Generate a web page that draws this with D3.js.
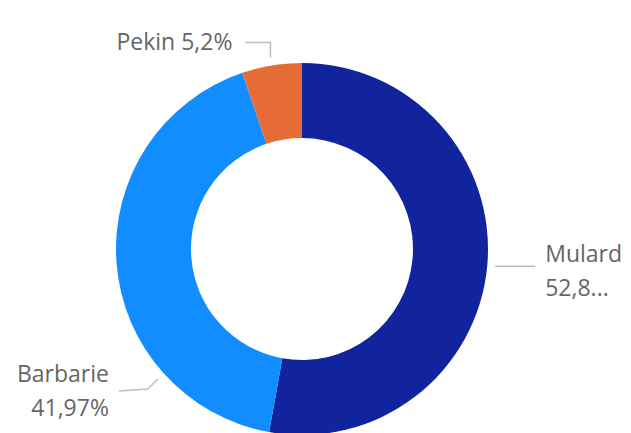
<!DOCTYPE html>
<html>
<head>
<meta charset="utf-8">
<script src="https://cdn.jsdelivr.net/npm/d3@7"></script>
<style>
  body { margin: 0; background: #fff; }
  .label { font-family: "Open Sans", sans-serif; font-size: 23px; fill: #666; }
  .leader { fill: none; stroke: #bdbdbd; stroke-width: 1.5px; }
</style>
</head>
<body>
<div id="chart"></div>
<script>
// data
const categories = ["Mulard", "Barbarie", "Pekin"];
const values = [52.83, 41.97, 5.2];
const valueLabels = ["52,8...", "41,97%", "5,2%"];
const colors = ["#12239E", "#118DFF", "#E66C37"];

const width = 631, height = 433;
const cx = 302, cy = 249;
const outerRadius = 186, innerRadius = 111;

const svg = d3.select("#chart").append("svg")
    .attr("width", width)
    .attr("height", height);

const g = svg.append("g")
    .attr("transform", "translate(" + cx + "," + cy + ")");

const pie = d3.pie().sort(null).value(d => d.value);
const arc = d3.arc().innerRadius(innerRadius).outerRadius(outerRadius);

const data = categories.map((c, i) => ({
    name: c, value: values[i], text: valueLabels[i], color: colors[i]
}));

const arcs = pie(data);

g.selectAll(".arc")
    .data(arcs)
    .enter()
    .append("path")
    .attr("class", "arc")
    .attr("d", arc)
    .style("fill", d => d.data.color);

// label layout (Power BI style outside labels)
// anchor angle = fraction inside slice, then elbow offsets relative to anchor
const layout = {
    "Mulard":   { t: 0.5, elbow: [0, 0],   end: [40, 0],   anchor: "start", gap: 10, lines: 2, dy: 4 },
    "Barbarie": { t: 0.25, elbow: [-10, 10], end: [-39, 12], anchor: "end", gap: 10, lines: 2, dy: -1 },
    "Pekin":    { t: 0.5, elbow: [0, -15], end: [-25, -15], anchor: "end", gap: 13, lines: 1, dy: 1 }
};

const pointAt = (angle, r) => [r * Math.sin(angle), -r * Math.cos(angle)];

arcs.forEach(d => {
    const L = layout[d.data.name];
    const a = d.startAngle + (d.endAngle - d.startAngle) * L.t;
    const p0 = pointAt(a, outerRadius + 8);
    const p1 = [p0[0] + L.elbow[0], p0[1] + L.elbow[1]];
    const p2 = [p0[0] + L.end[0], p0[1] + L.end[1]];

    g.append("path")
        .attr("class", "leader")
        .attr("d", d3.line()([p0, p1, p2]));

    const tx = p2[0] + (L.anchor === "start" ? L.gap : -L.gap);
    const text = g.append("text")
        .attr("class", "label")
        .attr("text-anchor", L.anchor)
        .attr("x", tx)
        .attr("y", p2[1] + L.dy);

    if (L.lines === 1) {
        text.attr("dominant-baseline", "middle")
            .text(d.data.name + " " + d.data.text);
    } else {
        text.append("tspan")
            .attr("x", tx)
            .attr("dy", "-0.35em")
            .text(d.data.name);
        text.append("tspan")
            .attr("x", tx)
            .attr("dy", 34)
            .text(d.data.text);
    }
});
</script>
</body>
</html>
